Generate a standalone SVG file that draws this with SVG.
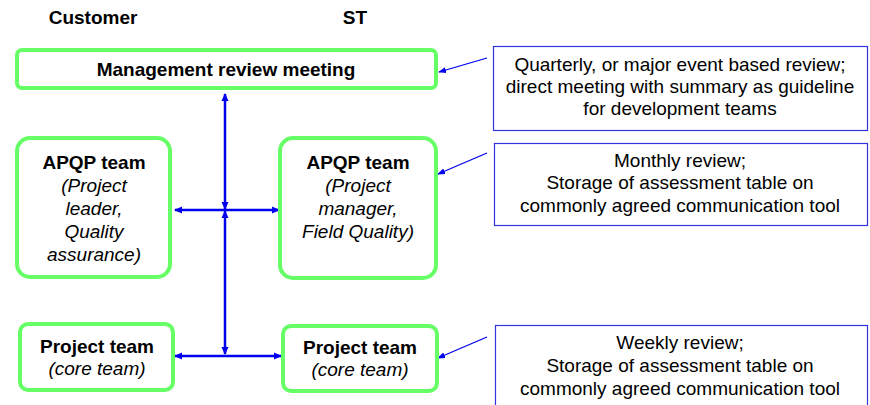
<svg xmlns="http://www.w3.org/2000/svg" width="870" height="405" viewBox="0 0 870 405">
<defs>
<style>
.node{fill:#fff;stroke:#66ff66;stroke-width:4}
.note{fill:#fff;stroke:#3333dd;stroke-width:1.2}
.b{font-family:"Liberation Sans",Arial,sans-serif;font-weight:bold;font-size:19px;fill:#000;text-anchor:middle}
.i{font-family:"Liberation Sans",Arial,sans-serif;font-style:italic;font-size:19px;fill:#000;text-anchor:middle}
.t{font-family:"Liberation Sans",Arial,sans-serif;font-size:19px;fill:#000;text-anchor:middle}
.h{font-family:"Liberation Sans",Arial,sans-serif;font-weight:bold;font-size:19px;fill:#000;text-anchor:middle}
.c{stroke:#0000ee;stroke-width:2.5;fill:none}
.p{stroke:#0000ee;stroke-width:1.3;fill:none}
</style>
<marker id="ah" markerWidth="8" markerHeight="8" refX="7" refY="4" orient="auto-start-reverse" markerUnits="userSpaceOnUse">
<path d="M0,0.5 L8,4 L0,7.5 Z" fill="#0000ee"/>
</marker>
<marker id="as" markerWidth="8" markerHeight="8" refX="7" refY="4" orient="auto" markerUnits="userSpaceOnUse">
<path d="M0,1 L8,4 L0,7 Z" fill="#0000ee"/>
</marker>
</defs>
<rect width="870" height="405" fill="#fff"/>
<text class="h" x="93" y="24">Customer</text>
<text class="h" x="355" y="24">ST</text>

<g id="connectors">
<line class="c" x1="225" y1="209" x2="225" y2="94" marker-start="url(#ah)" marker-end="url(#ah)"/>
<line class="c" x1="225" y1="211" x2="225" y2="354" marker-start="url(#ah)" marker-end="url(#ah)"/>
<line class="c" x1="175" y1="210" x2="279" y2="210" marker-start="url(#ah)" marker-end="url(#ah)"/>
<line class="c" x1="175" y1="356" x2="281" y2="356" marker-start="url(#ah)" marker-end="url(#ah)"/>
<line class="p" x1="487" y1="58" x2="439" y2="72" marker-end="url(#as)"/>
<line class="p" x1="487" y1="153" x2="438" y2="174" marker-end="url(#as)"/>
<line class="p" x1="487" y1="337" x2="438" y2="358" marker-end="url(#as)"/>
</g>

<g id="mgmt">
<rect class="node" x="17" y="50" width="419" height="38" rx="5"/>
<text class="b" x="226" y="76">Management review meeting</text>
</g>
<g id="apqp-customer">
<rect class="node" x="17" y="138" width="153" height="139" rx="13"/>
<text class="b" x="94" y="169">APQP team</text>
<text class="i" x="94" y="192">(Project</text>
<text class="i" x="94" y="215">leader,</text>
<text class="i" x="94" y="238">Quality</text>
<text class="i" x="94" y="261">assurance)</text>
</g>
<g id="apqp-st">
<rect class="node" x="280" y="138" width="156" height="140" rx="13"/>
<text class="b" x="358" y="169">APQP team</text>
<text class="i" x="358" y="192">(Project</text>
<text class="i" x="358" y="215">manager,</text>
<text class="i" x="358" y="238">Field Quality)</text>
</g>
<g id="pt-customer">
<rect class="node" x="20" y="324" width="153" height="66" rx="8"/>
<text class="b" x="97" y="353">Project team</text>
<text class="i" x="97" y="375">(core team)</text>
</g>
<g id="pt-st">
<rect class="node" x="283" y="326" width="154" height="65" rx="8"/>
<text class="b" x="360" y="354">Project team</text>
<text class="i" x="360" y="376">(core team)</text>
</g>

<g id="note-quarterly">
<rect class="note" x="493.5" y="46.5" width="374" height="84"/>
<text class="t" x="680" y="71">Quarterly, or major event based review;</text>
<text class="t" x="680" y="93">direct meeting with summary as guideline</text>
<text class="t" x="680" y="115">for development teams</text>
</g>
<g id="note-monthly">
<rect class="note" x="494.5" y="143.5" width="373" height="82"/>
<text class="t" x="680" y="167">Monthly review;</text>
<text class="t" x="680" y="189">Storage of assessment table on</text>
<text class="t" x="680" y="212">commonly agreed communication tool</text>
</g>
<g id="note-weekly">
<rect class="note" x="495.5" y="325.5" width="372" height="90"/>
<text class="t" x="680" y="349">Weekly review;</text>
<text class="t" x="680" y="372">Storage of assessment table on</text>
<text class="t" x="680" y="395">commonly agreed communication tool</text>
</g>
</svg>
